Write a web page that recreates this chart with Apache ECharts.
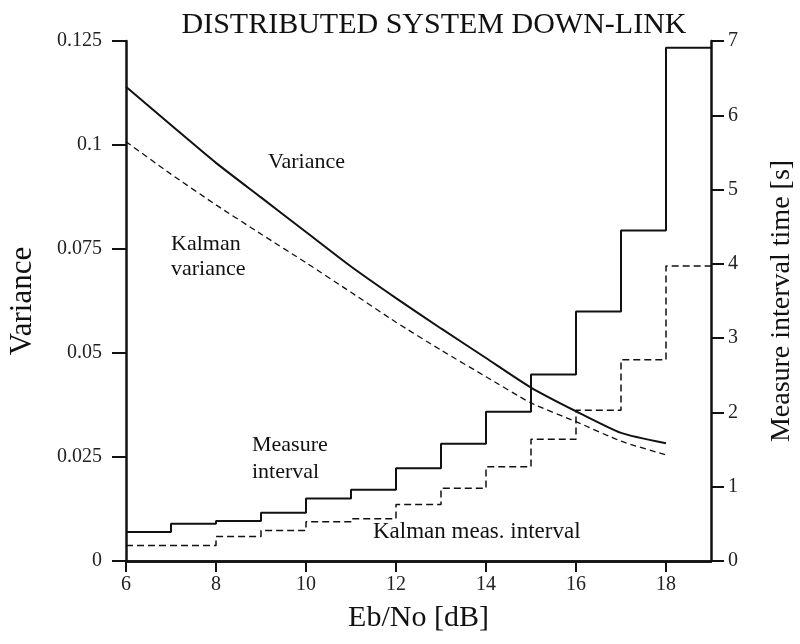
<!DOCTYPE html>
<html>
<head>
<meta charset="utf-8">
<title>Distributed system down-link</title>
<script src="https://cdn.jsdelivr.net/npm/echarts@6/dist/echarts.min.js"></script>
<style>
  html, body { margin: 0; padding: 0; background: #fff; }
  #chart { width: 800px; height: 644px; }
</style>
</head>
<body>
<div id="chart"></div>
<script>
// Eb/No [dB] sample points of the variance curves
const ebno = [6, 7, 8, 9, 10, 11, 12, 13, 14, 15, 16, 17, 18]
const variance = [0.114, 0.1048, 0.0957, 0.0874, 0.0791, 0.0708, 0.0632, 0.0559, 0.0488, 0.0417, 0.0360, 0.0308, 0.0283]
const kalmanVariance = [0.1008, 0.0930, 0.0856, 0.0786, 0.0717, 0.0646, 0.0574, 0.0507, 0.0443, 0.0380, 0.0335, 0.0288, 0.0255]

// step edges of the measure interval curves (value holds from one edge to the next)
const stepEdges = [6, 7, 8, 9, 10, 11, 12, 13, 14, 15, 16, 17, 18, 19]
const measureInterval = [0.39, 0.50, 0.54, 0.65, 0.84, 0.96, 1.25, 1.58, 2.01, 2.51, 3.36, 4.45, 6.91]
const kalmanInterval = [0.21, 0.21, 0.33, 0.41, 0.53, 0.57, 0.76, 0.98, 1.27, 1.64, 2.03, 2.71, 3.97]

const xTicks = [6, 8, 10, 12, 14, 16, 18]

const serif = 'Liberation Serif'
const ink = '#111'

const chart = echarts.init(document.getElementById('chart'))

// 阶梯数据：最后一个值延续到右边界
const toSteps = vals => stepEdges.map((x, i) => [x, vals[Math.min(i, vals.length - 1)]])

const option = {
  animation: false,
  backgroundColor: '#fff',
  title: {
    text: 'DISTRIBUTED SYSTEM DOWN-LINK',
    left: 429,
    top: 5,
    textAlign: 'center',
    textStyle: { fontFamily: serif, fontWeight: 'normal', fontSize: 30, color: ink }
  },
  grid: { left: 126, right: 89, top: 41, bottom: 83, outerBoundsMode: 'none' },
  xAxis: [{
    type: 'value',
    min: 6,
    max: 19,
    interval: 2,
    name: 'Eb/No [dB]',
    nameLocation: 'middle',
    nameGap: 42,
    nameTextStyle: { fontFamily: serif, fontSize: 30, color: ink },
    splitLine: { show: false },
    axisLine: { lineStyle: { color: ink, width: 2.5 } },
    axisTick: { length: 11, customValues: xTicks, lineStyle: { color: ink, width: 2 } },
    axisLabel: { customValues: xTicks, margin: 14, fontFamily: serif, fontSize: 20, color: '#222' }
  }, {
    type: 'value',
    position: 'top',
    min: 6,
    max: 19,
    splitLine: { show: false },
    axisLine: { lineStyle: { color: ink, width: 2.5 } },
    axisTick: { show: false },
    axisLabel: { show: false }
  }],
  yAxis: [{
    type: 'value',
    min: 0,
    max: 0.125,
    interval: 0.025,
    name: 'Variance',
    nameLocation: 'middle',
    nameGap: 88,
    nameTextStyle: { fontFamily: serif, fontSize: 31, color: ink },
    splitLine: { show: false },
    axisLine: { show: true, lineStyle: { color: ink, width: 2.5 } },
    axisTick: { show: true, length: 14, lineStyle: { color: ink, width: 2 } },
    axisLabel: { margin: 24, fontFamily: serif, fontSize: 20, color: '#222' }
  }, {
    type: 'value',
    position: 'right',
    min: 0,
    max: 7,
    interval: 1,
    name: 'Measure interval time [s]',
    nameLocation: 'middle',
    nameGap: 57,
    nameTextStyle: { fontFamily: serif, fontSize: 28, color: ink },
    splitLine: { show: false },
    axisLine: { show: true, lineStyle: { color: ink, width: 2.5 } },
    axisTick: { show: true, length: 13, lineStyle: { color: ink, width: 2 } },
    axisLabel: { margin: 17, fontFamily: serif, fontSize: 20, color: '#222' }
  }],
  series: [{
    name: 'Variance',
    type: 'line',
    yAxisIndex: 0,
    data: ebno.map((x, i) => [x, variance[i]]),
    smooth: 0.2,
    showSymbol: false,
    lineStyle: { color: ink, width: 2 }
  }, {
    name: 'Kalman variance',
    type: 'line',
    yAxisIndex: 0,
    data: ebno.map((x, i) => [x, kalmanVariance[i]]),
    smooth: 0.2,
    showSymbol: false,
    lineStyle: { color: ink, width: 1.3, type: [6, 4] }
  }, {
    name: 'Measure interval',
    type: 'line',
    yAxisIndex: 1,
    step: 'end',
    data: toSteps(measureInterval),
    showSymbol: false,
    lineStyle: { color: ink, width: 2 }
  }, {
    name: 'Kalman meas. interval',
    type: 'line',
    yAxisIndex: 1,
    step: 'end',
    data: toSteps(kalmanInterval),
    showSymbol: false,
    lineStyle: { color: ink, width: 1.5, type: [7, 4] }
  }],
  graphic: [
    { type: 'text', left: 268, top: 151, style: { text: 'Variance', font: '22px "Liberation Serif"', fill: ink } },
    { type: 'text', left: 171, top: 232, style: { text: 'Kalman\nvariance', font: '22px "Liberation Serif"', fill: ink, lineHeight: 25 } },
    { type: 'text', left: 252, top: 432, style: { text: 'Measure\ninterval', font: '22px "Liberation Serif"', fill: ink, lineHeight: 27 } },
    { type: 'text', left: 373, top: 520, style: { text: 'Kalman meas. interval', font: '23px "Liberation Serif"', fill: ink } }
  ]
}

chart.setOption(option)
</script>
</body>
</html>
